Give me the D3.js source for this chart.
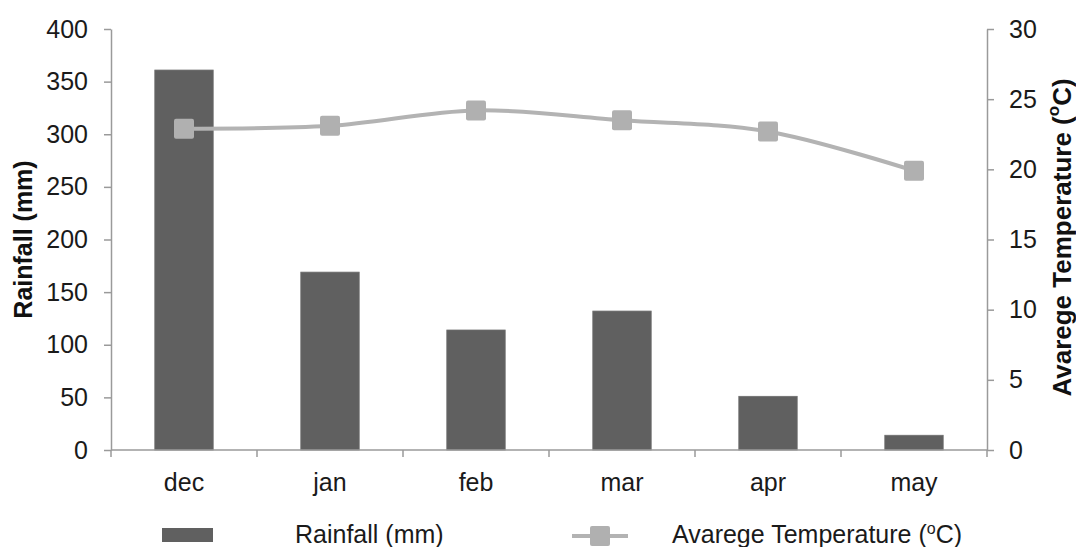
<!DOCTYPE html>
<html>
<head>
<meta charset="utf-8">
<script src="https://cdn.jsdelivr.net/npm/d3@7/dist/d3.min.js"></script>
<style>
  html, body { margin: 0; padding: 0; background: #fff; }
  svg { display: block; font-family: "Liberation Sans", Arial, sans-serif; }
</style>
</head>
<body>
<svg id="chart" width="1076" height="547"></svg>
<script>
const categories = ["dec", "jan", "feb", "mar", "apr", "may"];
const rainfall = [361, 169, 114, 132, 51, 14];
const temperature = [22.9, 23.1, 24.2, 23.5, 22.7, 19.9];
const leftTicks = [0, 50, 100, 150, 200, 250, 300, 350, 400];
const rightTicks = [0, 5, 10, 15, 20, 25, 30];

const svg = d3.select("#chart");
const L = 111, R = 987, T = 29, B = 450;
const axisColor = "#9a9a9a";
const barColor = "#606060";
const lineColor = "#b3b3b3";

const x = d3.scaleBand().domain(categories).range([L, R]).paddingInner(0.6).paddingOuter(0.3);
const yL = d3.scaleLinear().domain([0, 400]).range([B, T]);
const yR = d3.scaleLinear().domain([0, 30]).range([B, T]);

// Bars
svg.append("g").selectAll("rect").data(categories).join("rect")
  .attr("x", d => x(d))
  .attr("width", x.bandwidth())
  .attr("y", (d, i) => yL(rainfall[i]))
  .attr("height", (d, i) => B - yL(rainfall[i]))
  .attr("fill", barColor)
  .attr("stroke", "#6e6e6e")
  .attr("stroke-width", 0.8);

// Left axis
const gL = svg.append("g").attr("transform", `translate(${L},0)`)
  .call(d3.axisLeft(yL).tickValues(leftTicks).tickSize(7).tickSizeOuter(0).tickPadding(16));
// Right axis
const gR = svg.append("g").attr("transform", `translate(${R},0)`)
  .call(d3.axisRight(yR).tickValues(rightTicks).tickSize(7).tickSizeOuter(0).tickPadding(15));
// Bottom axis labels
const gB = svg.append("g").attr("transform", `translate(0,${B})`)
  .call(d3.axisBottom(x).tickSize(0).tickSizeOuter(0).tickPadding(23));

[gL, gR, gB].forEach(g => {
  g.selectAll(".domain").attr("stroke", axisColor).attr("stroke-width", 1.5);
  g.selectAll(".tick line").attr("stroke", axisColor).attr("stroke-width", 1.5);
  g.selectAll(".tick text").attr("fill", "#1a1a1a").style("font-size", "25px")
    .style("font-family", "'Liberation Sans', Arial, sans-serif");
});
gB.selectAll(".domain").attr("d", `M${L},0H${R}`);

// Category boundary ticks on x axis
const gap = (x.step() - x.bandwidth()) / 2;
const bounds = categories.map(c => x(c) - gap).concat([x(categories[categories.length - 1]) + x.bandwidth() + gap]);
svg.append("g").selectAll("line").data(bounds).join("line")
  .attr("x1", d => d).attr("x2", d => d)
  .attr("y1", B).attr("y2", B + 7)
  .attr("stroke", axisColor).attr("stroke-width", 1.5);

// Temperature line
const cx = (d) => x(d) + x.bandwidth() / 2;
const line = d3.line()
  .x((d, i) => cx(categories[i]))
  .y(d => yR(d))
  .curve(d3.curveCardinal.tension(0));
svg.append("path").datum(temperature)
  .attr("d", line)
  .attr("fill", "none")
  .attr("stroke", lineColor)
  .attr("stroke-width", 4);
const ms = 20;
svg.append("g").selectAll("rect").data(temperature).join("rect")
  .attr("x", (d, i) => cx(categories[i]) - ms / 2)
  .attr("y", d => yR(d) - ms / 2)
  .attr("width", ms).attr("height", ms)
  .attr("rx", 2)
  .attr("fill", "#b0b0b0");

// Axis titles
svg.append("text")
  .attr("transform", `translate(23,${(T + B) / 2}) rotate(-90)`)
  .attr("text-anchor", "middle")
  .attr("dominant-baseline", "central")
  .style("font-size", "25px").style("font-weight", "bold")
  .attr("fill", "#111")
  .text("Rainfall (mm)");

const rt = svg.append("text")
  .attr("transform", `translate(1062,${(T + B) / 2 - 2}) rotate(-90)`)
  .attr("text-anchor", "middle")
  .attr("dominant-baseline", "central")
  .style("font-size", "26px").style("font-weight", "bold")
  .attr("fill", "#111");
rt.append("tspan").text("Avarege Temperature (");
rt.append("tspan").text("o").style("font-size", "17px").attr("dy", -9);
rt.append("tspan").text("C)").attr("dy", 9);

// Legend
const lg = svg.append("g");
lg.append("rect").attr("x", 162).attr("y", 528).attr("width", 51).attr("height", 14).attr("fill", barColor);
lg.append("text").attr("x", 295).attr("y", 543).style("font-size", "25px").attr("fill", "#1a1a1a").text("Rainfall (mm)");
lg.append("line").attr("x1", 572).attr("x2", 628).attr("y1", 536).attr("y2", 536)
  .attr("stroke", lineColor).attr("stroke-width", 4);
lg.append("rect").attr("x", 600 - ms / 2).attr("y", 536 - ms / 2).attr("width", ms).attr("height", ms)
  .attr("rx", 2).attr("fill", "#b0b0b0");
const lt = lg.append("text").attr("x", 672).attr("y", 543).style("font-size", "25px").attr("fill", "#1a1a1a");
lt.append("tspan").text("Avarege Temperature  (");
lt.append("tspan").text("o").style("font-size", "16px").attr("dy", -9);
lt.append("tspan").text("C)").attr("dy", 9);
</script>
</body>
</html>
